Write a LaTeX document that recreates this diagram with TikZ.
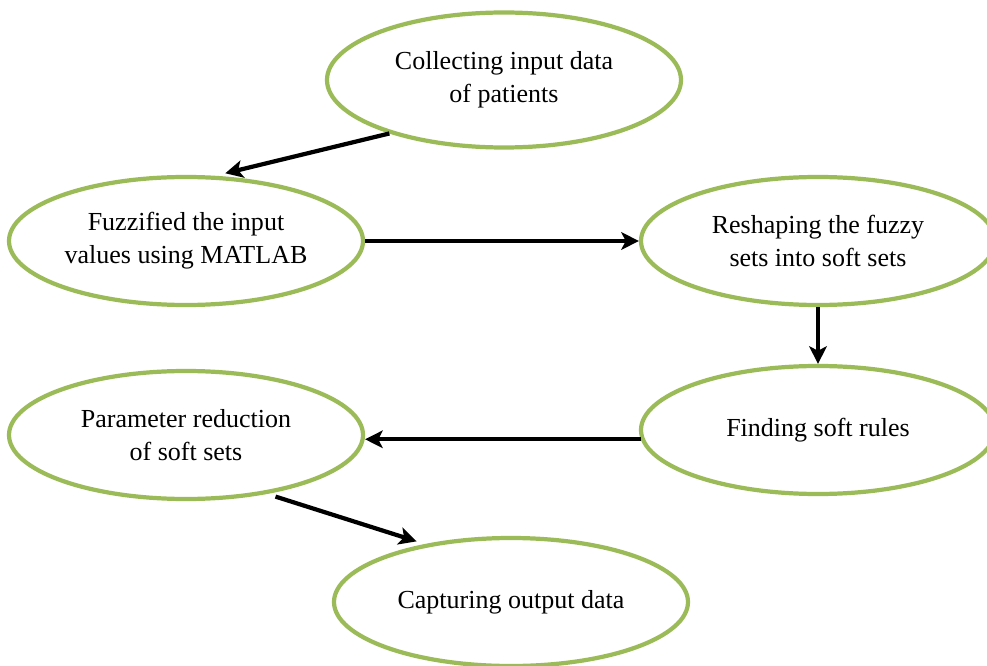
\documentclass[tikz,border=0pt]{standalone}
\usepackage{fontspec}
\setmainfont{Liberation Serif}
\usetikzlibrary{shapes.geometric, positioning, arrows.meta}
\definecolor{olive}{RGB}{155,187,89}
\tikzset{
	>={Stealth[length=10pt, width=10pt, inset=2.5pt]}, % bold arrow heads
	node distance=3cm, % default distance between two nodes
	process/.style={ellipse, draw=olive, line width=2.4pt, minimum width=7.08cm, minimum height=2.56cm, align=center, inner sep=0pt, font=\fontsize{14.8}{18.8}\selectfont}, % sets the properties for each step
	flow/.style={->, line width=2.4pt, black}, % sets the properties for each arrow
}

\begin{document}
\begin{tikzpicture}
			\useasboundingbox (0,0) rectangle (19.74,13.3);
			\node[process, minimum height=2.7cm] (1) at (10.08,11.70) {Collecting input data\\of patients};
			\node[process, on grid] (2) [below left=3.22cm and 6.36cm of 1] {Fuzzified the input\\values using MATLAB};
			\node[process, on grid] (3) [right=12.64cm of 2] {Reshaping the fuzzy\\sets into soft sets};
			\node[process, on grid] (4) [below=3.78cm of 3] {Finding soft rules};
			\node[process, on grid] (5) [below=3.88cm of 2] {Parameter reduction\\of soft sets};
			\node[process, on grid] (6) [below right=3.34cm and 6.5cm of 5] {Capturing output data};

			\draw[flow, shorten >=6pt] (1.205) -- (2.66);
			\draw[flow] (2.east) -- (3.west);
			\draw[flow] (3.south) -- (4.north);
			\draw[flow] (4.183) -- (4.183 -| 5.east);
			\draw[flow, shorten <=5pt, shorten >=5pt] (5.-36) -- (6.146);
		\end{tikzpicture}
\end{document}
